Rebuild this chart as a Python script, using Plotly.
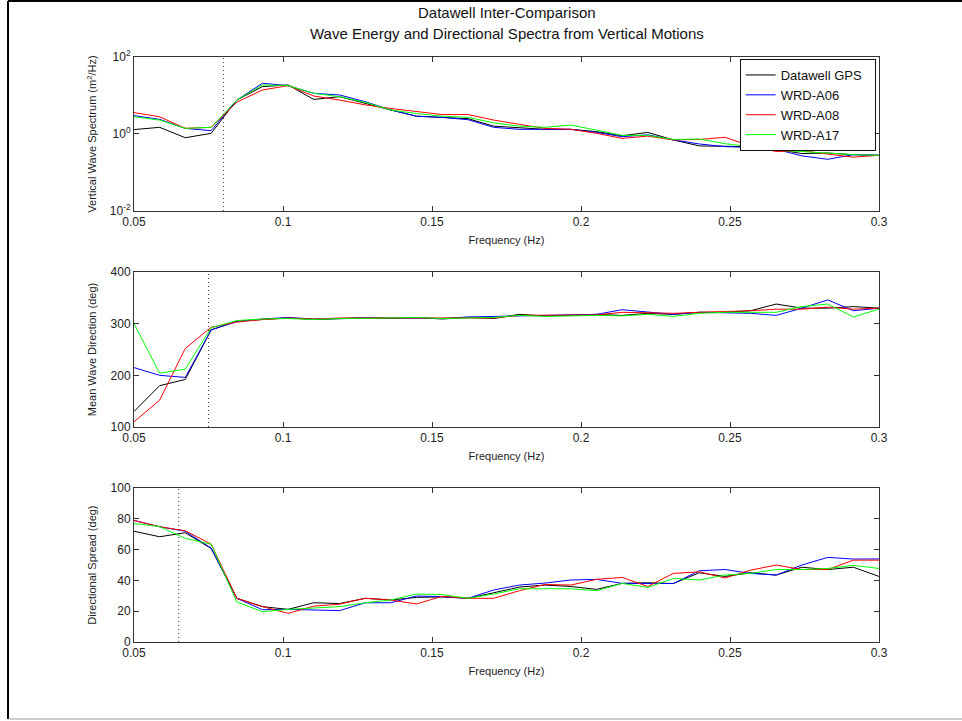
import plotly.graph_objects as go

freq = [0.05, 0.0586, 0.0672, 0.0759, 0.0845, 0.0931, 0.1017, 0.1103, 0.1190, 0.1276,
        0.1362, 0.1448, 0.1534, 0.1621, 0.1707, 0.1793, 0.1879, 0.1966, 0.2052, 0.2138,
        0.2224, 0.2310, 0.2397, 0.2483, 0.2569, 0.2655, 0.2741, 0.2828, 0.2914, 0.3]

series_names = ["Datawell GPS", "WRD-A06", "WRD-A08", "WRD-A17"]
series_colors = ["#000000", "#0000ff", "#ff0000", "#00ff00"]

# Vertical wave spectrum (m^2/Hz)
spec_gps = [1.3, 1.49, 0.80, 1.04, 7.6, 17.0, 18.8, 7.9, 9.3, 6.2,
            4.2, 2.9, 2.7, 2.5, 1.6, 1.45, 1.32, 1.32, 1.15, 0.9,
            1.1, 0.7, 0.49, 0.48, 0.46, 0.40, 0.31, 0.32, 0.29, 0.28]
spec_a06 = [3.0, 2.4, 1.4, 1.22, 7.6, 20.8, 18.0, 11.4, 10.3, 6.9,
            4.2, 2.9, 2.7, 2.35, 1.49, 1.32, 1.32, 1.32, 1.1, 0.85,
            0.95, 0.7, 0.55, 0.47, 0.45, 0.40, 0.27, 0.22, 0.29, 0.28]
spec_a08 = [3.6, 2.8, 1.4, 1.49, 6.7, 13.9, 18.0, 9.7, 7.6, 5.7,
            4.6, 3.8, 3.2, 3.2, 2.3, 1.78, 1.4, 1.32, 1.04, 0.77,
            0.88, 0.7, 0.72, 0.82, 0.49, 0.35, 0.37, 0.30, 0.25, 0.28]
spec_a17 = [2.8, 2.3, 1.4, 1.49, 7.6, 18.8, 18.0, 11.4, 9.3, 6.6,
            4.2, 3.4, 2.9, 2.7, 1.95, 1.6, 1.49, 1.71, 1.26, 0.92,
            0.92, 0.72, 0.74, 0.56, 0.46, 0.38, 0.35, 0.32, 0.29, 0.28]

# Mean wave direction (deg)
dir_gps = [130, 180, 192, 288, 305, 308, 311, 308, 310, 311,
           310, 312, 309, 312, 310, 318, 315, 316, 318, 316,
           320, 318, 322, 322, 325, 338, 330, 330, 333, 330]
dir_a06 = [215, 200, 196, 288, 304, 309, 312, 309, 310, 312,
           311, 311, 310, 313, 314, 316, 316, 317, 318, 327,
           322, 318, 322, 321, 320, 316, 330, 346, 325, 330]
dir_a08 = [110, 152, 252, 293, 303, 308, 311, 309, 311, 311,
           312, 311, 311, 312, 311, 316, 316, 316, 317, 322,
           321, 320, 322, 323, 325, 328, 328, 332, 328, 330]
dir_a17 = [300, 204, 212, 292, 306, 309, 310, 308, 310, 310,
           311, 312, 310, 311, 312, 316, 314, 315, 316, 315,
           318, 314, 320, 322, 322, 322, 333, 338, 313, 328]

# Directional spread (deg)
spr_gps = [72, 68.4, 71, 60.8, 28.4, 23, 21.2, 25.5, 25, 28.4,
           27.3, 29, 29.3, 28.4, 32, 35.7, 37, 36.1, 34.2, 38.1,
           38.5, 38, 45, 42.6, 45, 43.5, 48.6, 47.1, 48.6, 42.6]
spr_a06 = [79, 74.9, 72, 61, 28.4, 21, 21.2, 20.8, 20.4, 25.5,
           25.5, 29.9, 29.5, 28.4, 33.8, 37, 38.3, 40.3, 40.7, 38.1,
           38, 38, 46.3, 47.1, 44.6, 43.5, 50, 55, 53.9, 54]
spr_a08 = [79, 74.9, 72.3, 63.6, 28.4, 23, 18.6, 23.3, 24.6, 28.4,
           27.3, 24.7, 29.7, 28.4, 28.4, 33.3, 37.4, 37, 40.7, 42,
           36.1, 44.6, 45.6, 41.6, 46.7, 50, 47.1, 47.1, 53.2, 53.2]
spr_a17 = [77, 75, 67.3, 63.6, 26, 19.7, 21.2, 22, 23, 25.5,
           27.3, 31.2, 30.8, 28.4, 31.2, 34.6, 34.8, 34.6, 33.3, 38.1,
           35.5, 41.3, 40.3, 43.5, 44.6, 47.1, 47.1, 47.8, 49.8, 47.8]

spectra = [spec_gps, spec_a06, spec_a08, spec_a17]
directions = [dir_gps, dir_a06, dir_a08, dir_a17]
spreads = [spr_gps, spr_a06, spr_a08, spr_a17]

cutoffs = [0.08, 0.075, 0.065]

title_lines = ["Datawell Inter-Comparison",
               "Wave Energy and Directional Spectra from Vertical Motions"]

FONT = "Liberation Sans, Arial, sans-serif"

fig = go.Figure()
for i, name in enumerate(series_names):
    fig.add_trace(go.Scatter(x=freq, y=spectra[i], name=name + "\u00a0\u00a0", mode="lines",
                             line=dict(color=series_colors[i], width=1),
                             xaxis="x", yaxis="y", showlegend=True))
for i, name in enumerate(series_names):
    fig.add_trace(go.Scatter(x=freq, y=directions[i], name=name, mode="lines",
                             line=dict(color=series_colors[i], width=1),
                             xaxis="x2", yaxis="y2", showlegend=False))
for i, name in enumerate(series_names):
    fig.add_trace(go.Scatter(x=freq, y=spreads[i], name=name, mode="lines",
                             line=dict(color=series_colors[i], width=1),
                             xaxis="x3", yaxis="y3", showlegend=False))

axcommon = dict(showline=True, linecolor="#333333", linewidth=1, mirror="ticks",
                ticks="inside", ticklen=5, tickcolor="#333333", showgrid=False,
                zeroline=False, tickfont=dict(family=FONT, size=12, color="#222222"))

xcommon = dict(range=[0.05, 0.3], tickvals=[0.05, 0.1, 0.15, 0.2, 0.25, 0.3],
               ticktext=["0.05", "0.1", "0.15", "0.2", "0.25", "0.3"],
               title=dict(text="Frequency (Hz)", font=dict(family=FONT, size=11, color="#222222"),
                          standoff=7),
               **axcommon)

fig.update_layout(
    width=962, height=721,
    margin=dict(l=134, r=83, t=57, b=79),
    paper_bgcolor="white", plot_bgcolor="white",
    font=dict(family=FONT, color="#222222"),
    xaxis=dict(domain=[0, 1], anchor="y", **xcommon),
    xaxis2=dict(domain=[0, 1], anchor="y2", **xcommon),
    xaxis3=dict(domain=[0, 1], anchor="y3", **xcommon),
    yaxis=dict(domain=[0.7368, 1.0], type="log", range=[-2, 2],
               tickvals=[0.01, 1, 100],
               ticktext=["10<sup>-2</sup>", "10<sup>0</sup>", "10<sup>2</sup>"],
               title=dict(text="Vertical Wave Spectrum (m<sup>2</sup>/Hz)",
                          font=dict(family=FONT, size=11, color="#222222"), standoff=10),
               **axcommon),
    yaxis2=dict(domain=[0.3675, 0.6325], range=[100, 400], tickvals=[100, 200, 300, 400],
                title=dict(text="Mean Wave Direction (deg)",
                           font=dict(family=FONT, size=11, color="#222222"), standoff=11),
                **axcommon),
    yaxis3=dict(domain=[0.0, 0.263], range=[0, 100], tickvals=[0, 20, 40, 60, 80, 100],
                title=dict(text="Directional Spread (deg)",
                           font=dict(family=FONT, size=11, color="#222222"), standoff=11),
                **axcommon),
    legend=dict(x=0.813, xanchor="left", y=0.9966, yanchor="top",
                bgcolor="white", bordercolor="#111111", borderwidth=1,
                font=dict(family=FONT, size=13, color="#111111"),
                tracegroupgap=0, itemwidth=30),
    showlegend=True,
)

fig.add_annotation(text=title_lines[0], xref="paper", yref="paper", x=0.5, y=1.0769,
                   xanchor="center", yanchor="middle", showarrow=False,
                   font=dict(family=FONT, size=15, color="#111111"))
fig.add_annotation(text=title_lines[1], xref="paper", yref="paper", x=0.5, y=1.0410,
                   xanchor="center", yanchor="middle", showarrow=False,
                   font=dict(family=FONT, size=15, color="#111111"))

shapes = []
for axn, c in zip(["x", "x2", "x3"], cutoffs):
    yref = {"x": "y domain", "x2": "y2 domain", "x3": "y3 domain"}[axn]
    shapes.append(dict(type="line", xref=axn, yref=yref, x0=c, x1=c, y0=0, y1=1,
                       line=dict(color="#333333", width=1, dash="1px,3px")))
# outer frame of the figure window
shapes.append(dict(type="line", xref="paper", yref="paper", x0=-0.1691, x1=-0.1691,
                   y0=-0.1316, y1=1.0957, line=dict(color="#000000", width=2)))
shapes.append(dict(type="line", xref="paper", yref="paper", x0=-0.1691, x1=1.1114,
                   y0=1.0957, y1=1.0957, line=dict(color="#000000", width=2)))
shapes.append(dict(type="line", xref="paper", yref="paper", x0=-0.1691, x1=1.1114,
                   y0=-0.1316, y1=-0.1316, line=dict(color="#999999", width=1)))
fig.update_layout(shapes=shapes)

fig.write_html("out.html")
